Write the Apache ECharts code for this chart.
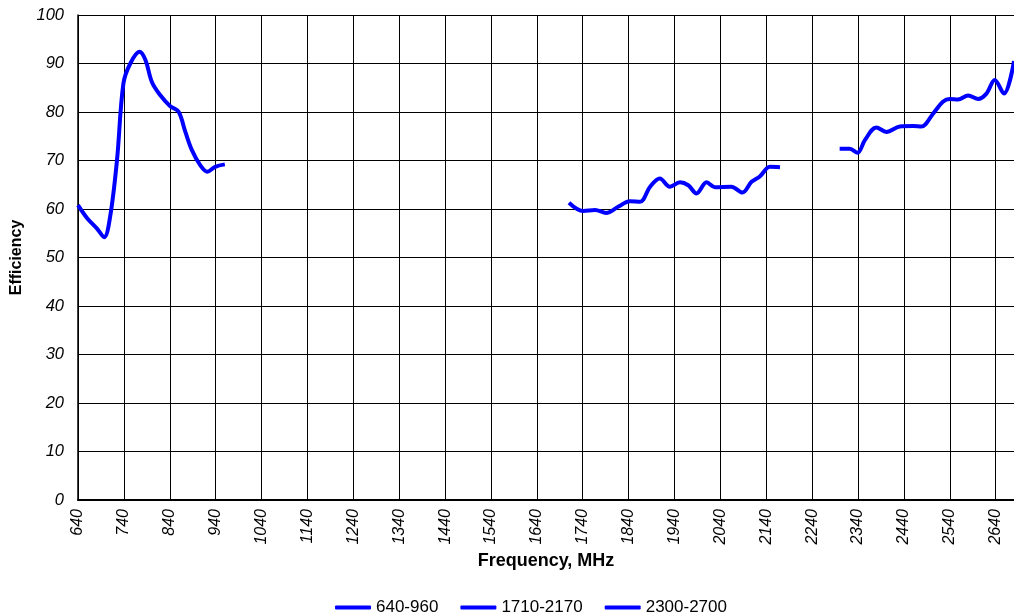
<!DOCTYPE html>
<html>
<head>
<meta charset="utf-8">
<script src="https://cdn.jsdelivr.net/npm/echarts@6/dist/echarts.min.js"></script>
<style>
html,body{margin:0;padding:0;background:#fff;}
#chart{width:1014px;height:616px;}
</style>
</head>
<body>
<div id="chart"></div>
<script>
// Frequency (MHz) and efficiency values
const freqLow = [640, 660, 681, 697, 710, 725, 739, 754, 774, 787, 801, 819, 841, 859, 874, 888, 906, 922, 939, 960];
const effLow  = [60.8, 58.1, 56.0, 54.2, 58.4, 70.1, 85.9, 90.0, 92.4, 90.7, 86.2, 83.5, 81.2, 80.1, 75.9, 72.2, 69.1, 67.7, 68.7, 69.2];

const freqMid = [1710, 1741, 1767, 1791, 1818, 1843, 1865, 1887, 1908, 1930, 1952, 1970, 1988, 2010, 2028, 2064, 2088, 2108, 2126, 2148, 2170];
const effMid  = [61.3, 59.6, 59.8, 59.2, 60.5, 61.6, 61.5, 64.6, 66.3, 64.6, 65.5, 64.9, 63.2, 65.5, 64.5, 64.6, 63.4, 65.6, 66.7, 68.7, 68.6];

const freqHigh = [2300, 2322, 2339, 2355, 2380, 2402, 2431, 2460, 2478, 2504, 2525, 2540, 2558, 2580, 2602, 2620, 2638, 2658, 2680];
const effHigh  = [72.4, 72.4, 71.6, 74.2, 76.8, 75.9, 77.0, 77.1, 77.0, 79.7, 82.1, 82.7, 82.6, 83.4, 82.7, 83.8, 86.6, 83.8, 90.5];

const seriesNames = ['640-960', '1710-2170', '2300-2700'];

const X_START = 640;   // first tick label
const X_END = 2680;    // right edge of plot
const X_STEP = 100;
const Y_MIN = 0, Y_MAX = 100, Y_STEP = 10;

// x axis is offset so ticks are counted from a multiple of the interval
const toPairs = (fs, vs) => fs.map((f, i) => [f - X_START, vs[i]]);

const font = "'Liberation Sans', Arial, sans-serif";
const blue = '#0000FF';

const mkSeries = (name, fs, vs) => ({
  name: name,
  type: 'line',
  data: toPairs(fs, vs),
  smooth: 0.35,
  showSymbol: false,
  symbol: 'none',
  lineStyle: { color: blue, width: 4 },
  itemStyle: { color: blue },
  clip: true
});

const chart = echarts.init(document.getElementById('chart'), null, { renderer: 'canvas' });
chart.setOption({
  animation: false,
  backgroundColor: '#fff',
  grid: { left: 78, right: 0, top: 15, bottom: 116, containLabel: false },
  xAxis: {
    type: 'value',
    min: 0,
    max: X_END - X_START,
    interval: X_STEP,
    name: 'Frequency, MHz',
    nameLocation: 'middle',
    nameGap: 50,
    nameTextStyle: { fontFamily: font, fontSize: 18, fontWeight: 'bold', color: '#000' },
    axisLine: { show: true, onZero: false, lineStyle: { color: '#000', width: 2 } },
    axisTick: { show: false },
    axisLabel: {
      rotate: 90,
      margin: 9,
      fontFamily: font,
      fontSize: 16,
      fontStyle: 'italic',
      color: '#000',
      showMaxLabel: false,
      formatter: v => String(v + X_START)
    },
    splitLine: { show: true, lineStyle: { color: '#000', width: 1 } }
  },
  yAxis: {
    type: 'value',
    min: Y_MIN,
    max: Y_MAX,
    interval: Y_STEP,
    name: 'Efficiency',
    nameLocation: 'middle',
    nameGap: 53,
    nameTextStyle: { fontFamily: font, fontSize: 16, fontWeight: 'bold', color: '#000' },
    axisLine: { show: true, lineStyle: { color: '#000', width: 1.5 } },
    axisTick: { show: false },
    axisLabel: {
      margin: 14,
      fontFamily: font,
      fontSize: 16.5,
      fontStyle: 'italic',
      color: '#000'
    },
    splitLine: { show: true, lineStyle: { color: '#000', width: 1 } }
  },
  legend: {
    left: 330,
    top: 594,
    icon: 'roundRect',
    itemWidth: 36,
    itemHeight: 4,
    itemGap: 22,
    textStyle: { fontFamily: font, fontSize: 17, color: '#000' },
    data: seriesNames
  },
  series: [
    mkSeries(seriesNames[0], freqLow, effLow),
    mkSeries(seriesNames[1], freqMid, effMid),
    mkSeries(seriesNames[2], freqHigh, effHigh)
  ]
});
</script>
</body>
</html>
